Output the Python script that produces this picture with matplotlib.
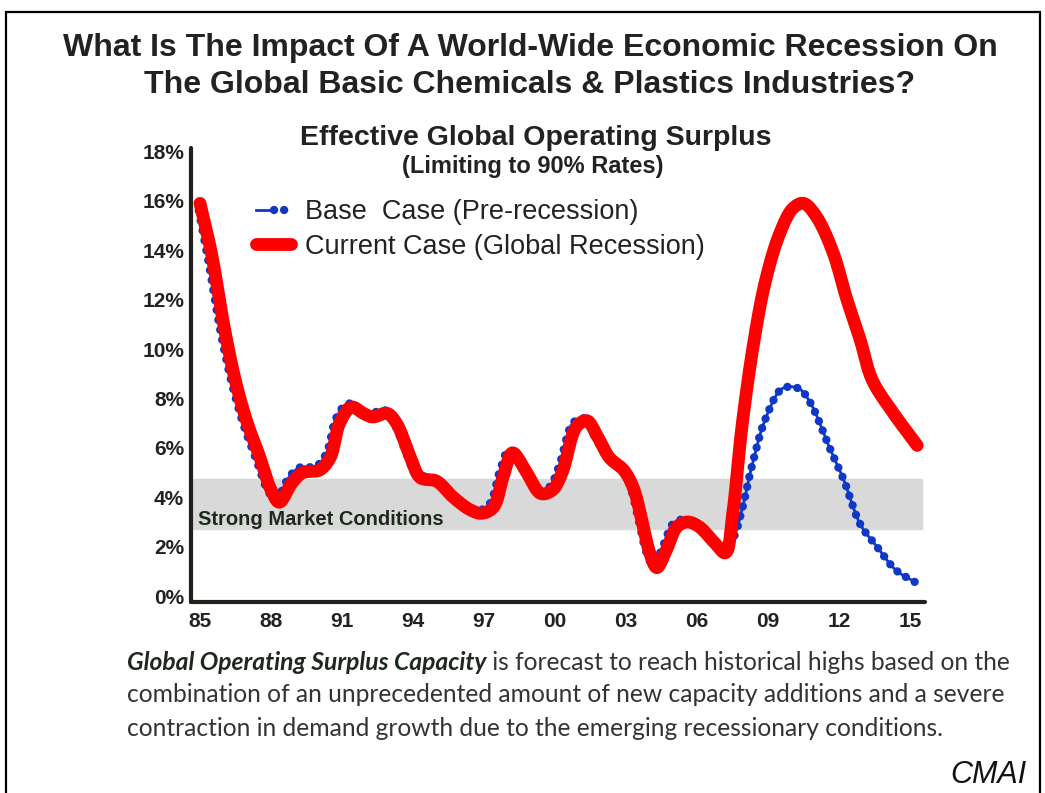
import matplotlib
matplotlib.use('Agg')
import numpy as np
import matplotlib.pyplot as plt
from matplotlib.patches import Rectangle
from matplotlib.lines import Line2D
from matplotlib.legend_handler import HandlerTuple

# Current case (global recession)
red_years = [1985.0, 1985.5, 1986.0, 1986.5, 1987.0, 1987.5, 1988.0, 1988.35, 1988.9,
             1989.35, 1990.05, 1990.5, 1990.9, 1991.4, 1991.9, 1992.3, 1992.9, 1993.3, 1993.9,
             1994.3, 1995.0, 1995.7, 1996.4, 1996.9, 1997.4, 1997.8, 1998.2, 1998.8, 1999.4,
             1999.9, 2000.3, 2000.9, 2001.35, 2001.8, 2002.3, 2002.9, 2003.3, 2003.7, 2004.0,
             2004.3, 2004.7, 2005.15, 2005.6, 2006.1, 2006.7, 2007.2, 2007.5, 2007.9, 2008.4,
             2008.9, 2009.5, 2010.05, 2010.5, 2011.05, 2011.75, 2012.3, 2012.9, 2013.4, 2014.3,
             2015.3]
red_values = [15.9, 13.8, 11.0, 8.7, 7.0, 5.7, 4.3, 3.8, 4.6,
              5.0, 5.1, 5.6, 7.0, 7.65, 7.4, 7.25, 7.4, 7.0, 5.6,
              4.8, 4.65, 4.0, 3.5, 3.35, 3.6, 4.8, 5.8, 5.0, 4.15,
              4.3, 5.0, 6.85, 7.1, 6.45, 5.6, 5.1, 4.4, 2.95, 1.75,
              1.15, 1.85, 2.8, 3.0, 2.8, 2.2, 1.75, 3.3, 6.9, 10.3,
              12.8, 14.7, 15.7, 15.9, 15.35, 13.9, 12.1, 10.35, 8.75, 7.4,
              6.1]

# Base case (pre-recession)
blue_years = [1984.95, 1985.35, 1985.85, 1986.35, 1986.85, 1987.35, 1987.85, 1988.2, 1988.75,
              1989.2, 1989.9, 1990.35, 1990.75, 1991.25, 1991.75, 1992.15, 1992.75, 1993.15, 1993.75,
              1994.15, 1994.85, 1995.55, 1996.25, 1996.75, 1997.25, 1997.65, 1998.05, 1998.65, 1999.25,
              1999.75, 2000.15, 2000.75, 2001.2, 2001.65, 2002.15, 2002.75, 2003.15, 2003.55, 2003.85,
              2004.15, 2004.55, 2005.0, 2005.45, 2005.95, 2006.55, 2007.1, 2007.5, 2007.9, 2008.3,
              2008.9, 2009.6, 2010.3, 2010.8, 2011.6, 2012.2, 2012.9, 2013.6, 2014.4, 2015.2]
blue_values = [15.6, 13.6, 10.8, 8.6, 6.9, 5.6, 4.3, 3.9, 4.8,
               5.2, 5.25, 5.8, 7.2, 7.8, 7.5, 7.35, 7.55, 7.1, 5.7,
               4.9, 4.8, 4.1, 3.6, 3.45, 3.75, 5.0, 5.9, 5.1, 4.25,
               4.4, 5.2, 7.0, 7.2, 6.5, 5.7, 5.2, 4.5, 3.0, 1.8,
               1.25, 2.0, 2.95, 3.1, 2.9, 2.3, 1.95, 2.3, 3.5, 5.2,
               7.2, 8.4, 8.4, 7.8, 6.0, 4.7, 2.9, 2.0, 1.05, 0.57]

x_ticks = [1985, 1988, 1991, 1994, 1997, 2000, 2003, 2006, 2009, 2012, 2015]
x_labels = ['85', '88', '91', '94', '97', '00', '03', '06', '09', '12', '15']
y_ticks = [0, 2, 4, 6, 8, 10, 12, 14, 16, 18]
y_labels = [f'{v}%' for v in y_ticks]

band_low, band_high = 2.7, 4.72


def smooth(xs, ys, n=16):
    # centripetal Catmull-Rom, like a "smoothed line" in a spreadsheet chart
    P = np.column_stack([xs, ys]).astype(float)
    P = np.vstack([2 * P[0] - P[1], P, 2 * P[-1] - P[-2]])
    out = []
    for i in range(len(P) - 3):
        p0, p1, p2, p3 = P[i:i + 4]
        t0 = 0.0
        t1 = t0 + np.linalg.norm(p1 - p0) ** 0.5
        t2 = t1 + np.linalg.norm(p2 - p1) ** 0.5
        t3 = t2 + np.linalg.norm(p3 - p2) ** 0.5
        t = np.linspace(t1, t2, n, endpoint=False)[:, None]
        a1 = (t1 - t) / (t1 - t0) * p0 + (t - t0) / (t1 - t0) * p1
        a2 = (t2 - t) / (t2 - t1) * p1 + (t - t1) / (t2 - t1) * p2
        a3 = (t3 - t) / (t3 - t2) * p2 + (t - t2) / (t3 - t2) * p3
        b1 = (t2 - t) / (t2 - t0) * a1 + (t - t0) / (t2 - t0) * a2
        b2 = (t3 - t) / (t3 - t1) * a2 + (t - t1) / (t3 - t1) * a3
        out.append((t2 - t) / (t2 - t1) * b1 + (t - t1) / (t2 - t1) * b2)
    out.append(P[-2][None, :])
    c = np.vstack(out)
    return c[:, 0], c[:, 1]


W, H = 1045, 793
fig = plt.figure(figsize=(W / 100, H / 100), dpi=100)
fig.patch.set_facecolor('white')
plt.rcParams['font.family'] = ['Liberation Sans', 'DejaVu Sans']

# outer frame
fig.patches.append(Rectangle((6 / W, -0.05), 1034 / W, 1.05 - 12 / H, transform=fig.transFigure,
                             fill=False, edgecolor='black', linewidth=1.6))

ax = fig.add_axes([191 / W, 191 / H, 734 / W, 454 / H])
ax.set_xlim(1984.62, 2015.63)
ax.set_ylim(-0.24, 18.14)

ax.axhspan(band_low, band_high, xmin=0, xmax=0.996, color='#d9d9d9', zorder=1)
ax.text(1984.9, 3.08, 'Strong Market Conditions', fontsize=14.5, fontweight='bold',
        color='#1c2a1c', va='center', ha='left', zorder=2)

blue = '#1038c8'
bx, by = smooth(blue_years, blue_values)
rx, ry = smooth(red_years, red_values)
ax.plot(bx, by, color=blue, lw=2, zorder=3)
ax.plot(bx, by, color=blue, lw=6, linestyle=(0, (0.01, 1.2)), dash_capstyle='round', zorder=3)
ax.plot(rx, ry, color='#ff0000', lw=9.2, solid_capstyle='round', solid_joinstyle='round', zorder=4)

for s in ['top', 'right']:
    ax.spines[s].set_visible(False)
for s in ['left', 'bottom']:
    ax.spines[s].set_linewidth(3)
    ax.spines[s].set_color('#231f1a')
    ax.spines[s].set_capstyle('round')

ax.set_xticks(x_ticks)
ax.set_xticklabels(x_labels)
ax.set_yticks(y_ticks)
ax.set_yticklabels(y_labels)
ax.tick_params(length=0, labelsize=15, labelcolor='#222222')
ax.tick_params(axis='y', pad=5)
ax.tick_params(axis='x', pad=7)
for lbl in ax.get_xticklabels() + ax.get_yticklabels():
    lbl.set_fontweight('bold')

# legend
h_blue = (Line2D([], [], color=blue, lw=2),
          Line2D([], [], color=blue, lw=6, linestyle=(0, (0.01, 1.2)), dash_capstyle='round'))
h_red = Line2D([], [], color='#ff0000', lw=9.2, solid_capstyle='round')
leg = fig.legend([h_blue, h_red], ['Base  Case (Pre-recession)', 'Current Case (Global Recession)'],
                 handler_map={tuple: HandlerTuple(ndivide=None, pad=0)},
                 loc='upper left', bbox_to_anchor=(256 / W, 1 - 199 / H), bbox_transform=fig.transFigure,
                 frameon=False, fontsize=19.5, handlelength=1.3, handletextpad=0.5,
                 labelspacing=0.32, borderpad=0, borderaxespad=0)
for t in leg.get_texts():
    t.set_color('#222222')

# titles
fig.text(530 / W, 1 - 48 / H, 'What Is The Impact Of A World-Wide Economic Recession On',
         ha='center', va='center', fontsize=23, fontweight='bold', color='#222222')
fig.text(530 / W, 1 - 85 / H, 'The Global Basic Chemicals & Plastics Industries?',
         ha='center', va='center', fontsize=23, fontweight='bold', color='#222222')
fig.text(536 / W, 1 - 138 / H, 'Effective Global Operating Surplus',
         ha='center', va='center', fontsize=20.5, fontweight='bold', color='#222222')
fig.text(533 / W, 1 - 166 / H, '(Limiting to 90% Rates)',
         ha='center', va='center', fontsize=17, fontweight='bold', color='#222222')

# bottom note
note_font = ['Lato', 'DejaVu Sans']
note_size = 17.7
t1 = fig.text(127 / W, 1 - 663 / H, 'Global Operating Surplus Capacity', family=note_font,
              fontsize=note_size, fontweight='bold', style='italic', color='#1c2a1c', va='center')
renderer = fig.canvas.get_renderer()
x1 = t1.get_window_extent(renderer).x1 / W
fig.text(x1, 1 - 663 / H, ' is forecast to reach historical highs based on the', family=note_font,
         fontsize=note_size, color='#333333', va='center')
fig.text(127 / W, 1 - 695 / H, 'combination of an unprecedented amount of new capacity additions and a severe',
         family=note_font, fontsize=note_size, color='#333333', va='center')
fig.text(127 / W, 1 - 729 / H, 'contraction in demand growth due to the emerging recessionary conditions.',
         family=note_font, fontsize=note_size, color='#333333', va='center')

# logo
fig.text(988 / W, 1 - 775 / H, 'CMAI', fontsize=22, style='italic', color='#111111',
         ha='center', va='center')

fig.savefig('out.png', dpi=100)
